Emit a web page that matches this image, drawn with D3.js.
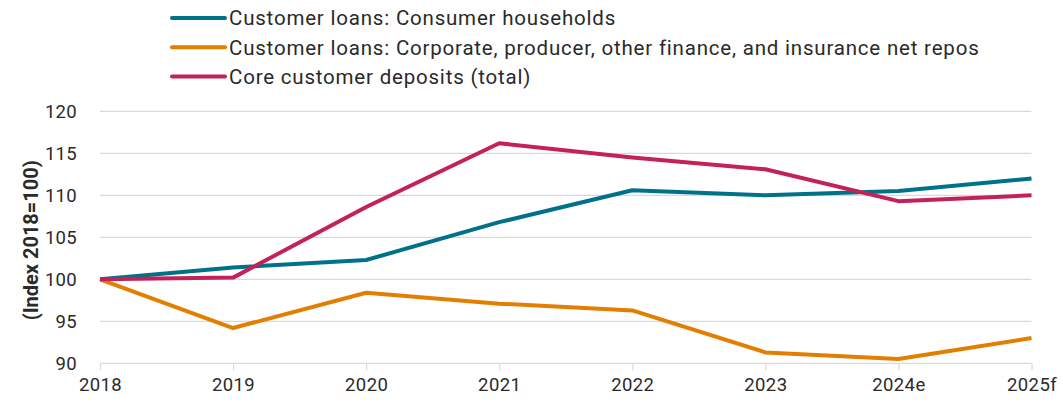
<!DOCTYPE html>
<html>
<head>
<meta charset="utf-8">
<script src="https://cdn.jsdelivr.net/npm/d3@7"></script>
<style>
  html, body { margin: 0; padding: 0; background: #fff; }
  svg { display: block; }
  text { font-family: Roboto, "Open Sans", sans-serif; fill: #2a2a2a; }
</style>
</head>
<body>
<svg id="chart" width="1063" height="403"></svg>
<script>
// Years on the x axis
const years = ["2018", "2019", "2020", "2021", "2022", "2023", "2024e", "2025f"];

// Index values (2018 = 100)
const householdLoans = [100, 101.4, 102.3, 106.8, 110.6, 110.0, 110.5, 112.0];
const corporateLoans = [100, 94.2, 98.4, 97.1, 96.3, 91.3, 90.5, 93.0];
const coreDeposits   = [100, 100.2, 108.6, 116.2, 114.5, 113.1, 109.3, 110.0];

const seriesNames = [
  "Customer loans: Consumer households",
  "Customer loans: Corporate, producer, other finance, and insurance net repos",
  "Core customer deposits (total)"
];
const seriesColors = ["#00718a", "#e27e00", "#c2215a"];

const yTicks = [90, 95, 100, 105, 110, 115, 120];
const yLabel = "(Index 2018=100)";

const series = [householdLoans, corporateLoans, coreDeposits].map((values, i) => ({
  name: seriesNames[i],
  color: seriesColors[i],
  values
}));

const svg = d3.select("#chart");
const margin = { left: 100, right: 31.5, top: 111.3, bottom: 39.7 };
const width = 1063, height = 403;

const x = d3.scalePoint().domain(years).range([margin.left, width - margin.right]);
const y = d3.scaleLinear().domain([90, 120]).range([height - margin.bottom, margin.top]);

// Horizontal gridlines
svg.append("g")
  .selectAll("line")
  .data(yTicks)
  .join("line")
  .attr("x1", margin.left)
  .attr("x2", width - margin.right)
  .attr("y1", d => y(d))
  .attr("y2", d => y(d))
  .attr("stroke", "#d9d9d9")
  .attr("stroke-width", 1.2);

// Y axis labels
const yAxis = d3.axisLeft(y).tickValues(yTicks).tickSize(0).tickPadding(23);
svg.append("g")
  .attr("transform", `translate(${margin.left},0)`)
  .call(yAxis)
  .call(g => g.select(".domain").remove())
  .call(g => g.selectAll("text")
    .style("font-family", "Roboto, sans-serif")
    .style("font-size", "18.5px")
    .style("letter-spacing", "0.3px")
    .attr("fill", "#2a2a2a"));

// X axis with downward ticks
const xAxis = d3.axisBottom(x).tickSize(7).tickPadding(8);
svg.append("g")
  .attr("transform", `translate(0,${y(90)})`)
  .call(xAxis)
  .call(g => g.select(".domain").remove())
  .call(g => g.selectAll(".tick line").attr("stroke", "#d9d9d9").attr("stroke-width", 1.2))
  .call(g => g.selectAll("text")
    .style("font-family", "Roboto, sans-serif")
    .style("font-size", "18.5px")
    .style("letter-spacing", "0.4px")
    .attr("fill", "#2a2a2a"));

// Rotated y axis title
svg.append("text")
  .attr("transform", `translate(38,${(y(90) + y(120)) / 2 + 3}) rotate(-90)`)
  .attr("text-anchor", "middle")
  .style("font-size", "20px")
  .style("font-weight", "bold")
  .attr("fill", "#111")
  .text(yLabel);

// Lines
const line = d3.line()
  .x((d, i) => x(years[i]))
  .y(d => y(d));

svg.append("g")
  .selectAll("path")
  .data(series)
  .join("path")
  .attr("d", d => line(d.values))
  .attr("fill", "none")
  .attr("stroke", d => d.color)
  .attr("stroke-width", 4)
  .attr("stroke-linejoin", "round");

// Legend
const legend = svg.append("g").attr("transform", "translate(172,18)");
const rows = legend.selectAll("g")
  .data(series)
  .join("g")
  .attr("transform", (d, i) => `translate(0,${i * 29.3})`);
rows.append("line")
  .attr("x1", 0).attr("x2", 53)
  .attr("stroke", d => d.color)
  .attr("stroke-width", 4)
  .attr("stroke-linecap", "round");
rows.append("text")
  .attr("x", 57)
  .attr("dy", "0.36em")
  .style("font-size", "20.5px")
  .style("letter-spacing", "0.8px")
  .text(d => d.name);
</script>
</body>
</html>
